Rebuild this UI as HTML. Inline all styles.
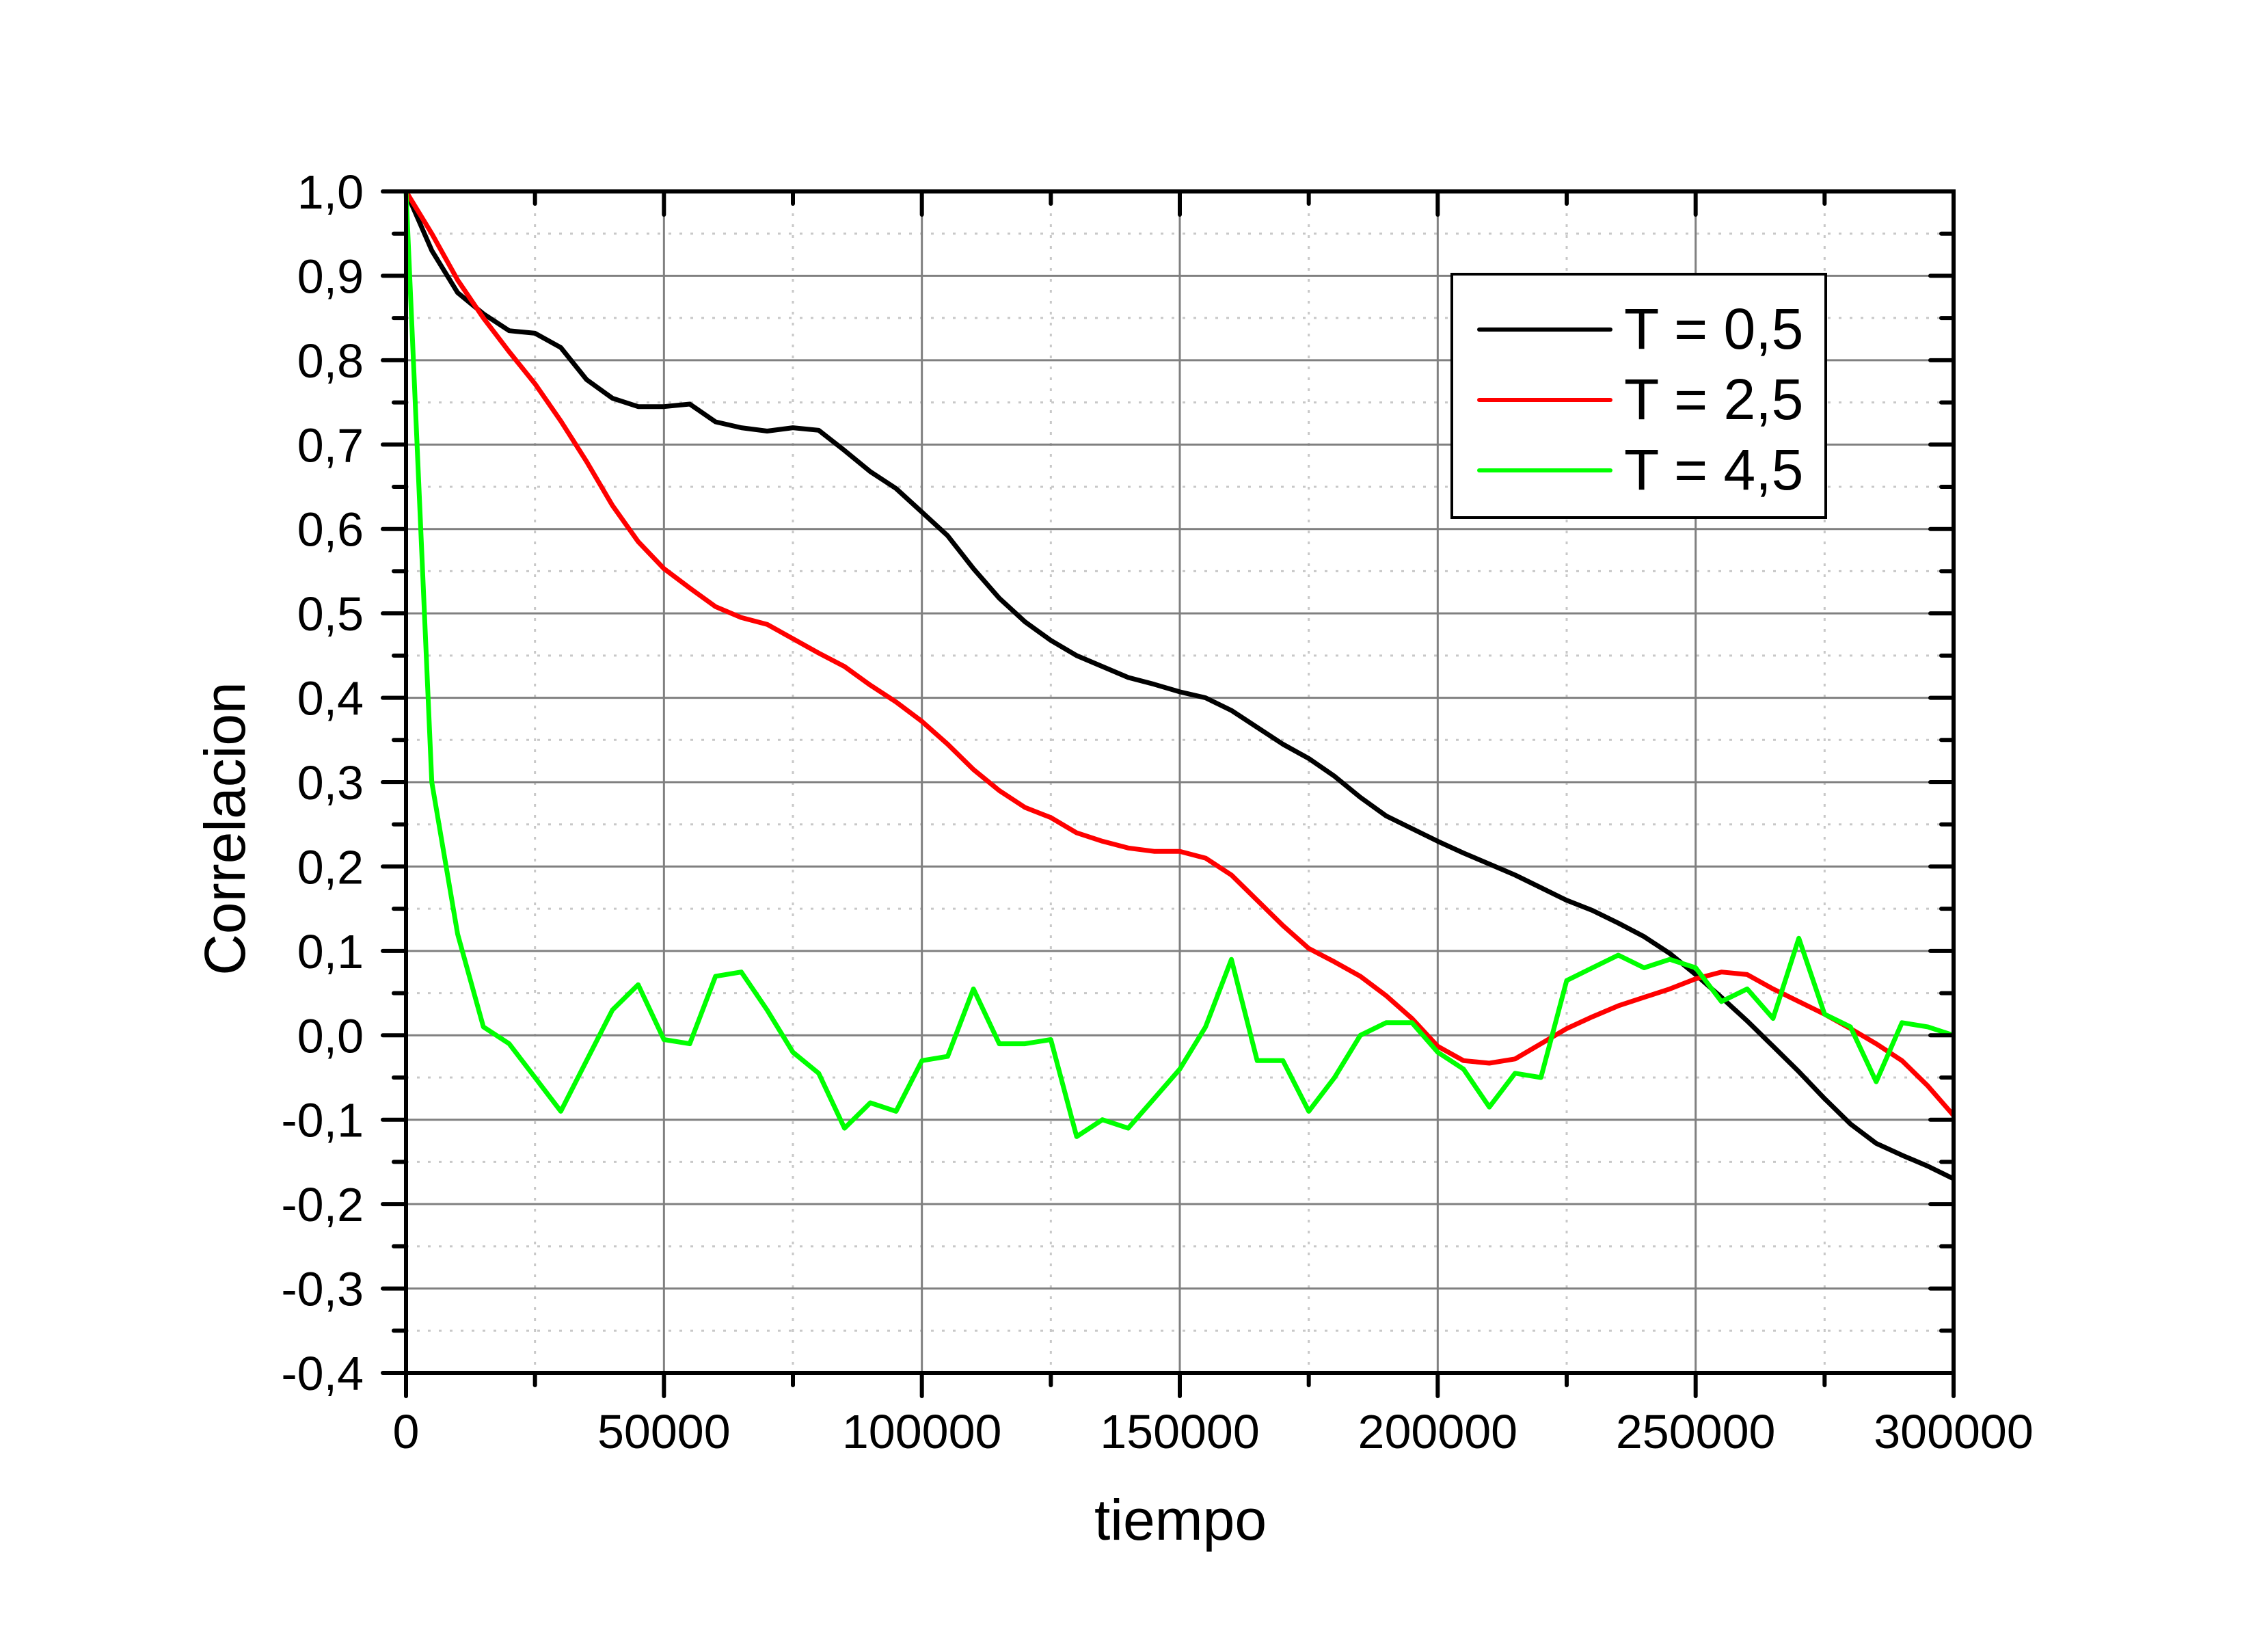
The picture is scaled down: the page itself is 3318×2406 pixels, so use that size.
<!DOCTYPE html>
<html><head><meta charset="utf-8"><style>
html,body{margin:0;padding:0;background:#fff}
svg{display:block;font-family:"Liberation Sans",Arial,sans-serif}
</style></head><body>
<svg id="chart" width="3318" height="2406" viewBox="0 0 3318 2406" xmlns="http://www.w3.org/2000/svg">
<rect width="3318" height="2406" fill="#fff"/>
<g id="grid"></g>
<g id="series"></g>
<g id="axes"></g>
<text x="1727" y="2252" font-size="84" text-anchor="middle">tiempo</text>
<text x="0" y="0" font-size="84" text-anchor="middle" transform="translate(358,1212) rotate(-90)">Correlacion</text>
<g id="legend"></g>
</svg>
<script>
const times = [0,5000,10000,15000,20000,25000,30000,35000,40000,45000,50000,55000,60000,65000,70000,75000,80000,85000,90000,95000,100000,105000,110000,115000,120000,125000,130000,135000,140000,145000,150000,155000,160000,165000,170000,175000,180000,185000,190000,195000,200000,205000,210000,215000,220000,225000,230000,235000,240000,245000,250000,255000,260000,265000,270000,275000,280000,285000,290000,295000,300000];
const seriesT05 = [1.0,0.93,0.88,0.855,0.835,0.832,0.815,0.777,0.755,0.745,0.745,0.748,0.727,0.72,0.716,0.72,0.717,0.693,0.668,0.648,0.62,0.592,0.553,0.518,0.49,0.468,0.45,0.437,0.424,0.416,0.407,0.4,0.385,0.365,0.345,0.328,0.307,0.282,0.26,0.245,0.23,0.216,0.203,0.19,0.175,0.16,0.148,0.133,0.117,0.097,0.072,0.045,0.017,-0.013,-0.043,-0.075,-0.105,-0.128,-0.142,-0.155,-0.17];
const seriesT25 = [1.0,0.95,0.895,0.85,0.81,0.772,0.728,0.68,0.628,0.585,0.553,0.53,0.508,0.495,0.487,0.47,0.453,0.437,0.415,0.395,0.372,0.345,0.315,0.29,0.27,0.258,0.24,0.23,0.222,0.218,0.218,0.21,0.19,0.16,0.13,0.103,0.087,0.07,0.047,0.02,-0.013,-0.03,-0.033,-0.028,-0.01,0.008,0.022,0.035,0.045,0.055,0.067,0.075,0.072,0.055,0.04,0.025,0.008,-0.01,-0.03,-0.06,-0.095];
const seriesT45 = [1.0,0.30,0.12,0.01,-0.01,-0.05,-0.09,-0.03,0.03,0.06,-0.005,-0.01,0.07,0.075,0.03,-0.02,-0.045,-0.11,-0.08,-0.09,-0.03,-0.025,0.055,-0.01,-0.01,-0.005,-0.12,-0.1,-0.11,-0.075,-0.04,0.01,0.09,-0.03,-0.03,-0.09,-0.05,0.0,0.015,0.015,-0.02,-0.04,-0.085,-0.045,-0.05,0.065,0.08,0.095,0.08,0.09,0.08,0.04,0.055,0.02,0.115,0.025,0.01,-0.055,0.015,0.01,0.0];
const seriesNames = ["T = 0,5","T = 2,5","T = 4,5"];
const seriesColors = ["#000000","#ff0000","#00ff00"];
const xTicks = [0,50000,100000,150000,200000,250000,300000];
const yTicks = [1.0,0.9,0.8,0.7,0.6,0.5,0.4,0.3,0.2,0.1,0.0,-0.1,-0.2,-0.3,-0.4];
const yTickLabels = ["1,0","0,9","0,8","0,7","0,6","0,5","0,4","0,3","0,2","0,1","0,0","-0,1","-0,2","-0,3","-0,4"];

const L=594,R=2858,T=280,B=2008;
const xMin=0,xMax=300000,yMin=-0.4,yMax=1.0;
const sx=v=>L+(v-xMin)/(xMax-xMin)*(R-L);
const sy=v=>B-(v-yMin)/(yMax-yMin)*(B-T);
const NS="http://www.w3.org/2000/svg";
function mk(tag,attrs,parent){const e=document.createElementNS(NS,tag);for(const k in attrs)e.setAttribute(k,attrs[k]);parent.appendChild(e);return e;}
const grid=document.getElementById('grid'),axes=document.getElementById('axes'),ser=document.getElementById('series'),leg=document.getElementById('legend');

for(let i=0;i<xTicks.length-1;i++){
  const xm=sx((xTicks[i]+xTicks[i+1])/2);
  const g=mk('line',{x1:xm,x2:xm,y1:T,y2:B,stroke:'#c8c8c8','stroke-width':3,'stroke-dasharray':'4 12'},grid);
  
  
}
for(let i=0;i<yTicks.length-1;i++){
  const ym=sy((yTicks[i]+yTicks[i+1])/2);
  const g=mk('line',{x1:L,x2:R,y1:ym,y2:ym,stroke:'#c8c8c8','stroke-width':3,'stroke-dasharray':'4 12'},grid);
  
  
}
xTicks.forEach(v=>{
  const g=mk('line',{x1:sx(v),x2:sx(v),y1:T,y2:B,stroke:'#808080','stroke-width':3},grid);
  
  
});
yTicks.forEach(v=>{
  const g=mk('line',{x1:L,x2:R,y1:sy(v),y2:sy(v),stroke:'#808080','stroke-width':3},grid);
  
  
});

[seriesT05,seriesT25,seriesT45].forEach((s,k)=>{
  const pts=s.map((v,i)=>sx(times[i]).toFixed(1)+','+sy(v).toFixed(1)).join(' ');
  const p=mk('polyline',{points:pts,fill:'none',stroke:seriesColors[k],'stroke-width':7,'stroke-linejoin':'round'},ser);
  
  
});

const fr=mk('rect',{x:L,y:T,width:R-L,height:B-T,fill:'none',stroke:'#000','stroke-width':6},axes);



xTicks.forEach((v,i)=>{
  const x=sx(v);
  mk('line',{x1:x,x2:x,y1:B,y2:B+34,stroke:'#000','stroke-width':6,'stroke-linecap':'round'},axes);
  mk('line',{x1:x,x2:x,y1:T,y2:T+34,stroke:'#000','stroke-width':6,'stroke-linecap':'round'},axes);
  if(i<xTicks.length-1){
    const xm=sx((v+xTicks[i+1])/2);
    mk('line',{x1:xm,x2:xm,y1:B,y2:B+18,stroke:'#000','stroke-width':6,'stroke-linecap':'round'},axes);
    mk('line',{x1:xm,x2:xm,y1:T,y2:T+18,stroke:'#000','stroke-width':6,'stroke-linecap':'round'},axes);
  }
  const t=mk('text',{x:x,y:2118,'font-size':70,'text-anchor':'middle'},axes);
  t.textContent=String(v);
  
  
});
yTicks.forEach((v,i)=>{
  const y=sy(v);
  mk('line',{x1:L-34,x2:L,y1:y,y2:y,stroke:'#000','stroke-width':6,'stroke-linecap':'round'},axes);
  mk('line',{x1:R-34,x2:R,y1:y,y2:y,stroke:'#000','stroke-width':6,'stroke-linecap':'round'},axes);
  if(i<yTicks.length-1){
    const ym=sy((v+yTicks[i+1])/2);
    mk('line',{x1:L-18,x2:L,y1:ym,y2:ym,stroke:'#000','stroke-width':6,'stroke-linecap':'round'},axes);
    mk('line',{x1:R-18,x2:R,y1:ym,y2:ym,stroke:'#000','stroke-width':6,'stroke-linecap':'round'},axes);
  }
  const t=mk('text',{x:532,y:y+25,'font-size':70,'text-anchor':'end'},axes);
  t.textContent=yTickLabels[i];
  
  
});

const lb=mk('rect',{x:2124,y:401,width:547,height:356,fill:'#fff',stroke:'#000','stroke-width':4},leg);


seriesNames.forEach((n,k)=>{
  const y=482+k*103;
  const l=mk('line',{x1:2164,x2:2356,y1:y,y2:y,stroke:seriesColors[k],'stroke-width':6,'stroke-linecap':'round'},leg);
  
  
  const t=mk('text',{x:2376,y:y+28,'font-size':84},leg);
  t.textContent=n;
  
  
});
</script>
</body></html>
